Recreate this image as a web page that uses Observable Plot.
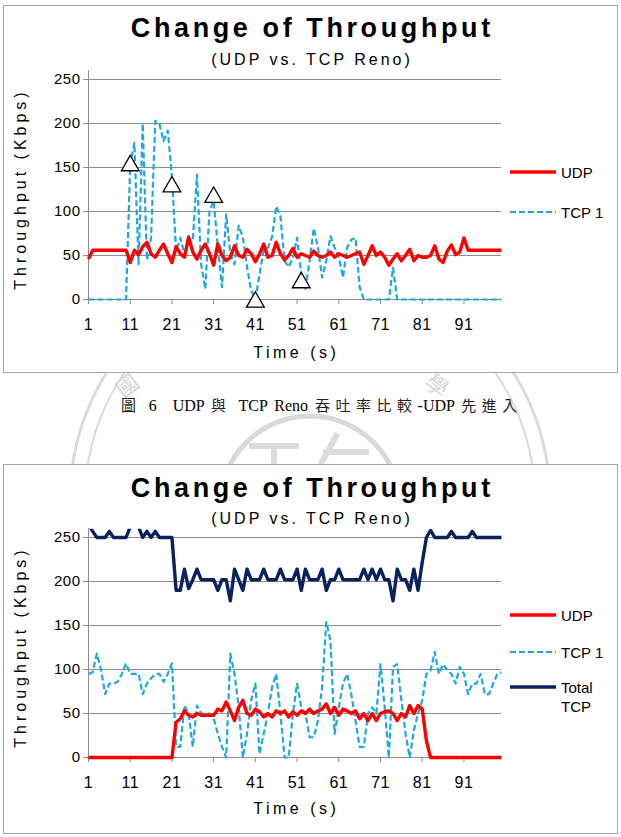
<!DOCTYPE html>
<html><head><meta charset="utf-8">
<script src="https://cdn.jsdelivr.net/npm/d3@7"></script>
<script src="https://cdn.jsdelivr.net/npm/@observablehq/plot@0.6"></script>
<style>
body{margin:0;background:#fff;}
#root{position:relative;width:621px;height:837px;overflow:hidden;font-family:"Liberation Sans",Arial,sans-serif;color:#000;}
.abs{position:absolute;}
.frame{position:absolute;box-sizing:border-box;border:1.5px solid #a6a6a6;background:#fff;}
.title{position:absolute;left:0;width:621px;text-align:center;font-weight:bold;font-size:27px;letter-spacing:3.6px;line-height:28px;padding-left:3.6px;box-sizing:border-box;}
.sub{position:absolute;left:0;width:621px;text-align:center;font-size:16px;letter-spacing:3px;line-height:18px;padding-left:3px;box-sizing:border-box;}
.xt{position:absolute;left:88px;width:413px;text-align:center;font-size:16px;letter-spacing:3.5px;line-height:20px;padding-left:3.5px;box-sizing:border-box;}
.yt{position:absolute;width:300px;height:20px;line-height:20px;text-align:center;font-size:16px;letter-spacing:4px;transform:rotate(-90deg);}
.leg{position:absolute;left:561px;font-size:15px;line-height:19px;white-space:nowrap;}
.cjk{font-family:"Noto Sans CJK TC";font-size:15px;letter-spacing:5.5px;color:#222;}
</style>
</head><body>
<div id="root">
<svg class="abs" style="left:0;top:0" width="621" height="837">
  <g fill="none" stroke="#dadada">
    <circle cx="310" cy="500" r="240" stroke-width="3"/>
    <circle cx="310" cy="500" r="225" stroke-width="2"/>
    <circle cx="310" cy="506" r="90" stroke-width="5"/>
  </g>
  <g fill="none" stroke="#dcdcdc" stroke-width="6" stroke-linecap="square">
    <path d="M252,446 H296"/>
    <path d="M274,446 V470"/>
    <path d="M336,436 L322,462"/>
    <path d="M326,452 H366"/>
  </g>
  <text x="0" y="0" font-size="22" fill="#d6d6d6" text-anchor="middle" dominant-baseline="central" font-family="Noto Sans CJK TC" transform="translate(126,384) rotate(-38)">國</text>
  <text x="0" y="0" font-size="22" fill="#d6d6d6" text-anchor="middle" dominant-baseline="central" font-family="Noto Sans CJK TC" transform="translate(438,384) rotate(38)">學</text>
</svg>
<div class="frame" style="left:3px;top:5px;width:615px;height:368px"></div>
<div class="frame" style="left:3px;top:464px;width:615px;height:370px"></div>
</div>
<script>
// ---------- data ----------
const time = d3.range(1, 101);            // x categories 1..100 (s)
const xTicks = [1, 11, 21, 31, 41, 51, 61, 71, 81, 91];
const yTicks = [0, 50, 100, 150, 200, 250];

// Chart 1 (UDP enters first)
const udpA = [
  46,56,56,56,56,56,56,56,56,56,
  42,56,51,60,65,52,48,56,63,52,
  42,60,52,48,71,54,46,56,63,52,
  39,63,50,44,48,61,50,48,57,52,
  43,52,63,48,50,65,52,45,50,58,
  48,52,50,48,55,50,48,50,54,48,
  52,50,48,50,52,54,40,50,61,50,
  54,48,39,46,52,44,50,57,44,50,
  48,48,50,61,46,42,55,62,51,54,
  70,56,56,56,56,56,56,56,56,56];
const tcpA = [
  0,0,0,0,0,0,0,0,0,0,
  154,178,40,200,45,70,203,200,180,192,
  140,55,70,52,62,66,142,40,12,100,
  112,60,14,97,52,40,84,71,37,10,
  0,29,56,59,71,106,95,44,37,48,
  70,29,12,44,81,59,25,44,72,59,
  48,25,59,68,70,14,0,0,0,0,
  0,0,0,36,0,0,0,0,0,0,
  0,0,0,0,0,0,0,0,0,0,
  0,0,0,0,0,0,0,0,0,0];
const markerTime = [11, 21, 31, 41, 52];
const markerValue = [155, 131, 119, 0, 22];

// Chart 2
const udpB = [
  0,0,0,0,0,0,0,0,0,0,
  0,0,0,0,0,0,0,0,0,0,
  0,40,44,53,48,46,50,48,48,48,
  48,55,53,63,53,42,57,65,50,48,
  55,52,46,50,46,53,50,53,46,52,
  48,53,50,55,50,53,55,61,50,57,
  48,55,53,50,53,44,50,42,50,42,
  50,52,53,50,42,50,46,59,50,59,
  55,19,0,0,0,0,0,0,0,0,
  0,0,0,0,0,0,0,0,0,0];
const tcpB = [
  95,97,118,100,72,84,84,86,95,107,
  95,95,95,72,84,90,95,95,86,95,
  107,12,12,59,50,12,59,50,50,50,
  45,27,12,0,118,95,57,0,27,65,
  84,4,27,50,80,95,50,0,0,50,
  84,57,50,23,23,42,80,154,133,27,
  57,84,95,72,42,12,12,50,57,50,
  106,57,0,103,106,65,27,0,31,50,
  65,95,99,120,95,106,99,95,84,103,
  95,72,84,84,95,72,72,84,95,97];
const totalB = [
  265,257,250,250,250,257,250,250,250,250,
  262,275,262,250,257,250,257,250,250,250,
  250,190,190,214,192,202,214,202,202,202,
  202,190,202,202,178,214,202,190,214,202,
  202,202,214,202,202,202,214,202,202,202,
  214,190,214,202,202,202,214,190,202,202,
  214,202,202,202,202,202,214,202,214,202,
  214,202,202,178,214,202,202,190,214,190,
  222,250,258,250,250,250,250,257,250,250,
  250,250,257,250,250,250,250,250,250,250];

const legendA = ["UDP", "TCP 1"];
const legendB = ["UDP", "TCP 1", "Total TCP"];

// ---------- styles ----------
const RED = "#ff0000", CYAN = "#1ea8e2", NAVY = "#0a2160", GRID = "#8c8c8c";
const styles = {
  "UDP": {stroke: RED, strokeWidth: 3.4},
  "TCP 1": {stroke: CYAN, strokeWidth: 2.2, strokeDasharray: "6,3"},
  "Total TCP": {stroke: NAVY, strokeWidth: 3.4}
};

const root = document.getElementById("root");
const ns = "http://www.w3.org/2000/svg";

function lineMark(values, name) {
  const rows = time.map((t, i) => ({t, v: values[i]}));
  return Plot.line(rows, {x: "t", y: "v", ...styles[name], strokeLinejoin: "round", strokeLinecap: "butt"});
}

function chart({top, height, marginTop, marginBottom, series, markers, clipId}) {
  const marks = [
    Plot.ruleY(yTicks.filter(d => d > 0), {x1: 1, x2: 100, stroke: GRID, strokeWidth: 1}),
    Plot.ruleY([0], {x1: 1, x2: 100, stroke: GRID, strokeWidth: 1}),
    Plot.ruleX([1], {y1: 0, y2: 260, stroke: GRID, strokeWidth: 1}),
    Plot.axisY({ticks: yTicks, tickSize: 5, tickPadding: 3, stroke: GRID, fill: "#000", fontSize: 15, label: null}),
    Plot.axisX({ticks: xTicks, tickSize: 5, tickPadding: 14, stroke: GRID, fill: "#000", fontSize: 16, label: null, tickFormat: d => String(d)}),
    ...series.map(([vals, name]) => lineMark(vals, name))
  ];
  if (markers) {
    const rows = markers[0].map((t, i) => ({t, v: markers[1][i]}));
    marks.push(Plot.dot(rows, {x: "t", y: "v", symbol: "triangle", r: 6.6, fill: "#fff", stroke: "#000", strokeWidth: 1.3, dy: 2.5}));
  }
  const svg = Plot.plot({
    width: 621, height, marginLeft: 88, marginRight: 120, marginTop, marginBottom,
    x: {type: "linear", domain: [1, 100]},
    y: {type: "linear", domain: [0, 260]},
    style: {background: "transparent", overflow: "visible", fontFamily: "Liberation Sans, Arial, sans-serif", fontSize: "15px", letterSpacing: "0.5px"},
    marks
  });
  // clip the series at the top of the plot area only (like the original)
  const defs = document.createElementNS(ns, "defs");
  const cp = document.createElementNS(ns, "clipPath");
  cp.setAttribute("id", clipId);
  const r = document.createElementNS(ns, "rect");
  r.setAttribute("x", 0); r.setAttribute("y", marginTop);
  r.setAttribute("width", 621); r.setAttribute("height", 1000);
  cp.appendChild(r); defs.appendChild(cp);
  svg.insertBefore(defs, svg.firstChild);
  svg.querySelectorAll('g[aria-label="line"]').forEach(g => g.setAttribute("clip-path", `url(#${clipId})`));
  svg.style.position = "absolute";
  svg.style.left = "0px";
  svg.style.top = top + "px";
  root.appendChild(svg);
}

function addDiv(cls, text, css) {
  const d = document.createElement("div");
  d.className = cls;
  d.textContent = text;
  Object.assign(d.style, css);
  root.appendChild(d);
  return d;
}

function legend(names, ys) {
  names.forEach((name, i) => {
    const s = styles[name];
    const svg = document.createElementNS(ns, "svg");
    svg.setAttribute("width", 50); svg.setAttribute("height", 10);
    svg.style.position = "absolute"; svg.style.left = "508px"; svg.style.top = (ys[i] - 5) + "px";
    const l = document.createElementNS(ns, "line");
    l.setAttribute("x1", 2); l.setAttribute("x2", 48); l.setAttribute("y1", 5); l.setAttribute("y2", 5);
    l.setAttribute("stroke", s.stroke); l.setAttribute("stroke-width", s.strokeWidth);
    if (s.strokeDasharray) l.setAttribute("stroke-dasharray", s.strokeDasharray);
    svg.appendChild(l);
    root.appendChild(svg);
    const words = name === "Total TCP" ? ["Total", "TCP"] : [name];
    const d = document.createElement("div");
    d.className = "leg";
    d.innerHTML = words.join("<br>");
    d.style.top = (ys[i] - 9.5) + "px";
    root.appendChild(d);
  });
}

// ---------- chart 1 ----------
chart({top: 0, height: 380, marginTop: 70.2, marginBottom: 81,
  series: [[tcpA, "TCP 1"], [udpA, "UDP"]], markers: [markerTime, markerValue], clipId: "clipA"});
addDiv("title", "Change of Throughput", {top: "14px"});
addDiv("sub", "(UDP vs. TCP Reno)", {top: "51px"});
addDiv("xt", "Time (s)", {top: "343px"});
addDiv("yt", "Throughput (Kbps)", {left: (21 - 150) + "px", top: (189 - 10) + "px"});
legend(legendA, [172, 212]);

// ---------- caption ----------
const cap = document.createElement("div");
cap.className = "abs";
Object.assign(cap.style, {left: "0px", width: "644px", top: "395px", textAlign: "center",
  fontFamily: "'Liberation Serif', 'Noto Sans CJK TC', serif", fontSize: "16px", lineHeight: "20px",
  whiteSpace: "nowrap", wordSpacing: "3px"});
cap.innerHTML = '<span class="cjk">圖</span> 6　UDP <span class="cjk">與</span> TCP Reno <span class="cjk">吞吐率比較</span>-UDP <span class="cjk">先進入</span>';
root.appendChild(cap);

// ---------- chart 2 ----------
chart({top: 460, height: 377, marginTop: 68.2, marginBottom: 80,
  series: [[tcpB, "TCP 1"], [totalB, "Total TCP"], [udpB, "UDP"]], markers: null, clipId: "clipB"});
addDiv("title", "Change of Throughput", {top: "474px"});
addDiv("sub", "(UDP vs. TCP Reno)", {top: "510px"});
addDiv("xt", "Time (s)", {top: "799px"});
addDiv("yt", "Throughput (Kbps)", {left: (21 - 150) + "px", top: (647 - 10) + "px"});
legend(legendB, [615, 652, 687]);
</script>
</body></html>
